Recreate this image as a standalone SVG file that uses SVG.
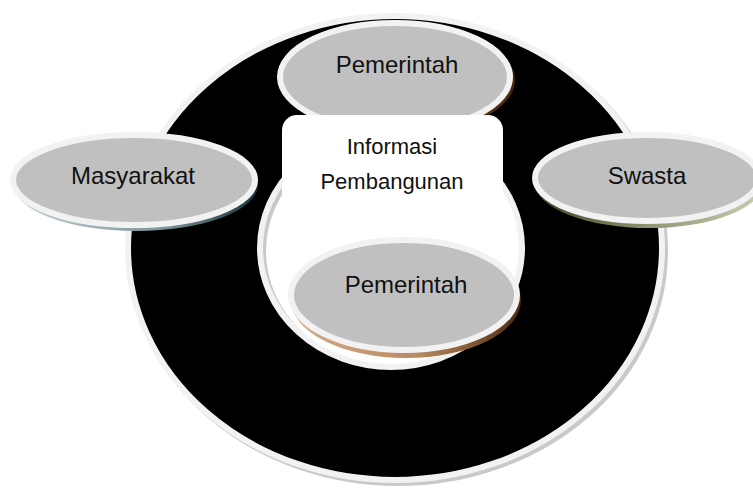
<svg xmlns="http://www.w3.org/2000/svg" width="753" height="491" viewBox="0 0 753 491">
  <defs>
    <linearGradient id="shMas" x1="0" y1="0" x2="1" y2="0">
      <stop offset="0" stop-color="#c3d0d4"/>
      <stop offset="0.6" stop-color="#7f979e"/>
      <stop offset="1" stop-color="#17323b"/>
    </linearGradient>
    <linearGradient id="shSwa" x1="0" y1="0" x2="1" y2="0">
      <stop offset="0" stop-color="#3a4420"/>
      <stop offset="0.5" stop-color="#8d9672"/>
      <stop offset="1" stop-color="#c9cfb6"/>
    </linearGradient>
    <linearGradient id="shTop" x1="0" y1="0" x2="1" y2="0">
      <stop offset="0" stop-color="#a0704a"/>
      <stop offset="1" stop-color="#4a2708"/>
    </linearGradient>
    <linearGradient id="shBot" x1="0" y1="0" x2="1" y2="0">
      <stop offset="0" stop-color="#d5ad8c"/>
      <stop offset="0.55" stop-color="#b98a62"/>
      <stop offset="1" stop-color="#4f2a0c"/>
    </linearGradient>
  </defs>
  <style>
    .ring { fill-rule: evenodd; }
    .node { fill: #c0c0c0; stroke: #f2f2f2; stroke-width: 6; }
    .lbl { font-family: "Liberation Sans", Arial, sans-serif; font-size: 24px; fill: #111111; text-anchor: middle; }
    .ctr { font-family: "Liberation Sans", Arial, sans-serif; font-size: 22px; fill: #111111; text-anchor: middle; }
  </style>
  <rect width="753" height="491" fill="#ffffff"/>

  <g id="ring">
    <path class="ring" transform="translate(3,3)" fill="#c9c9c9" stroke="#c9c9c9" stroke-width="6"
      d="M 128 248 A 267 232 0 1 0 662 248 A 267 232 0 1 0 128 248 Z M 260 248 A 131 119 0 1 1 522 248 A 131 119 0 1 1 260 248 Z"/>
    <path class="ring" fill="#000000" stroke="#f2f2f2" stroke-width="6"
      d="M 128 248 A 267 232 0 1 0 662 248 A 267 232 0 1 0 128 248 Z M 260 248 A 131 119 0 1 1 522 248 A 131 119 0 1 1 260 248 Z"/>
  </g>

  <g id="node-pemerintah-top">
    <ellipse cx="399" cy="80" rx="116" ry="55" fill="url(#shTop)"/>
    <ellipse class="node" cx="395" cy="77" rx="115" ry="54"/>
    <text class="lbl" x="397" y="73">Pemerintah</text>
  </g>

  <g id="node-masyarakat">
    <ellipse cx="136" cy="185" rx="122" ry="46" fill="url(#shMas)"/>
    <ellipse class="node" cx="134" cy="180" rx="121" ry="45"/>
    <text class="lbl" x="133" y="184">Masyarakat</text>
  </g>

  <g id="node-swasta">
    <ellipse cx="649" cy="183" rx="114" ry="45" fill="url(#shSwa)"/>
    <ellipse class="node" cx="647" cy="178" rx="112" ry="43"/>
    <text class="lbl" x="647" y="184">Swasta</text>
  </g>

  <g id="node-informasi">
    <rect x="282" y="115" width="221" height="145" rx="15" ry="15" fill="#ffffff"/>
    <text class="ctr" x="392" y="154">Informasi</text>
    <text class="ctr" x="392" y="189">Pembangunan</text>
  </g>

  <g id="node-pemerintah-bottom">
    <ellipse cx="406" cy="300" rx="115" ry="58" fill="url(#shBot)"/>
    <ellipse class="node" cx="404" cy="295" rx="113" ry="55"/>
    <text class="lbl" x="406" y="293">Pemerintah</text>
  </g>

  <g id="connectors"></g>
</svg>
